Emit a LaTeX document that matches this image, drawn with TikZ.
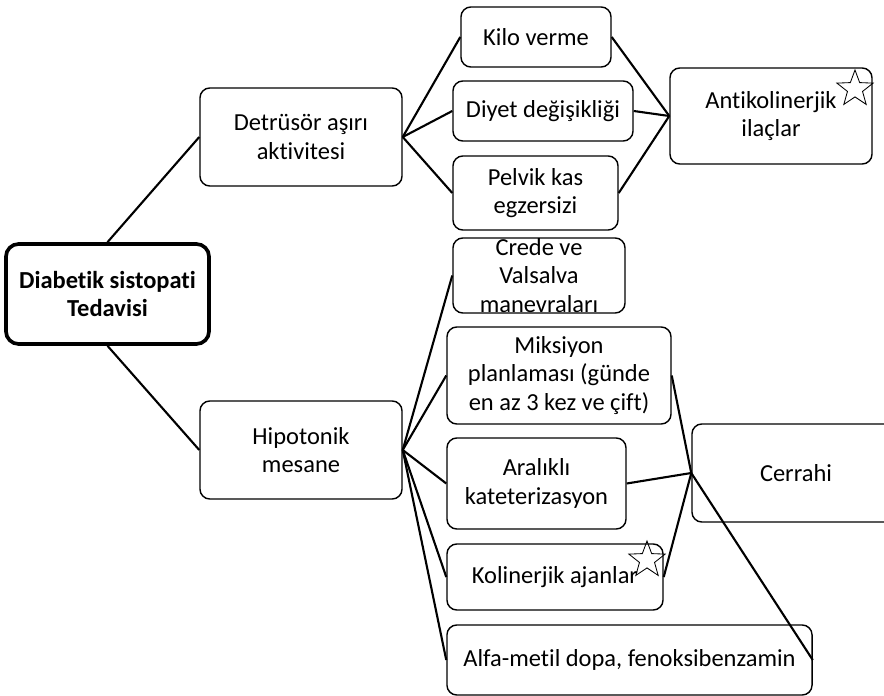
\documentclass[tikz,border=0pt]{standalone}
\usepackage{fontspec}
\setmainfont{Carlito}[Ligatures=NoCommon]
\usetikzlibrary{shapes.geometric}

\begin{document}
\begin{tikzpicture}[x=0.025cm,y=-0.025cm,
  box/.style={draw,rounded corners=7pt,line width=1pt,align=center,inner sep=0pt,
    font=\fontsize{17.4}{20}\selectfont},
  rootbox/.style={box,line width=2.6pt,rounded corners=9pt,font=\bfseries\fontsize{17.4}{20}\selectfont},
  link/.style={line width=1.5pt},
  starmark/.style={draw,star,star points=5,star point ratio=2.4,minimum size=0.95cm,inner sep=0pt,line width=0.6pt}]
\useasboundingbox (0,0) rectangle (884,696);
\node[rootbox,minimum width=5.075cm,minimum height=2.5cm] (root) at (107.5,294) {Diabetik sistopati\\Tedavisi};
\node[box,minimum width=5.05cm,minimum height=2.45cm] (detr) at (301,137) {Detrüsör aşırı\\aktivitesi};
\node[box,minimum width=5.05cm,minimum height=2.45cm] (hipo) at (301,450) {Hipotonik\\mesane};
\node[box,minimum width=3.75cm,minimum height=1.5cm] (kilo) at (536,37) {Kilo verme};
\node[box,minimum width=4.5cm,minimum height=1.5cm] (diyet) at (543,111) {Diyet değişikliği};
\node[box,minimum width=4.125cm,minimum height=1.85cm] (pelvik) at (535.5,193) {Pelvik kas\\egzersizi};
\node[box,minimum width=5.05cm,minimum height=2.4cm] (anti) at (771,116) {Antikolinerjik\\ilaçlar};
\node[box,minimum width=4.3cm,minimum height=1.875cm,inner ysep=-3pt] (crede) at (539,275.5) {Crede ve\\Valsalva\\manevraları};
\node[box,minimum width=5.6cm,minimum height=2.425cm] (miks) at (559,375.5) {Miksiyon\\planlaması (günde\\en az 3 kez ve çift)};
\node[box,minimum width=4.475cm,minimum height=2.275cm] (arali) at (536.5,483.5) {Aralıklı\\kateterizasyon};
\node[box,minimum width=5.4cm,minimum height=1.65cm] (koli) at (555,577) {Kolinerjik ajanlar};
\node[box,minimum width=9.125cm,minimum height=1.75cm] (alfa) at (629.5,660) {Alfa-metil dopa, fenoksibenzamin};
\node[box,minimum width=5.2cm,minimum height=2.45cm] (cerr) at (796,473) {Cerrahi};
% stars
\node[starmark] (antistar) at (855,89) {};
\node[starmark] (kolistar) at (647,560) {};
% links
\draw[link] (root.north) -- (detr.west);
\draw[link] (root.south) -- (hipo.west);
\draw[link] (detr.east) -- (kilo.west);
\draw[link] (detr.east) -- (diyet.west);
\draw[link] (detr.east) -- (pelvik.west);
\draw[link] (kilo.east) -- (anti.west);
\draw[link] (diyet.east) -- (anti.west);
\draw[link] (pelvik.east) -- (anti.west);
\draw[link] (hipo.east) -- (crede.west);
\draw[link] (hipo.east) -- (miks.west);
\draw[link] (hipo.east) -- (arali.west);
\draw[link] (hipo.east) -- (koli.west);
\draw[link] (hipo.east) -- (alfa.west);
\draw[link] (miks.east) -- (cerr.west);
\draw[link] (arali.east) -- (cerr.west);
\draw[link] (koli.east) -- (cerr.west);
\draw[link] (alfa.east) -- (cerr.west);
\end{tikzpicture}
\end{document}
